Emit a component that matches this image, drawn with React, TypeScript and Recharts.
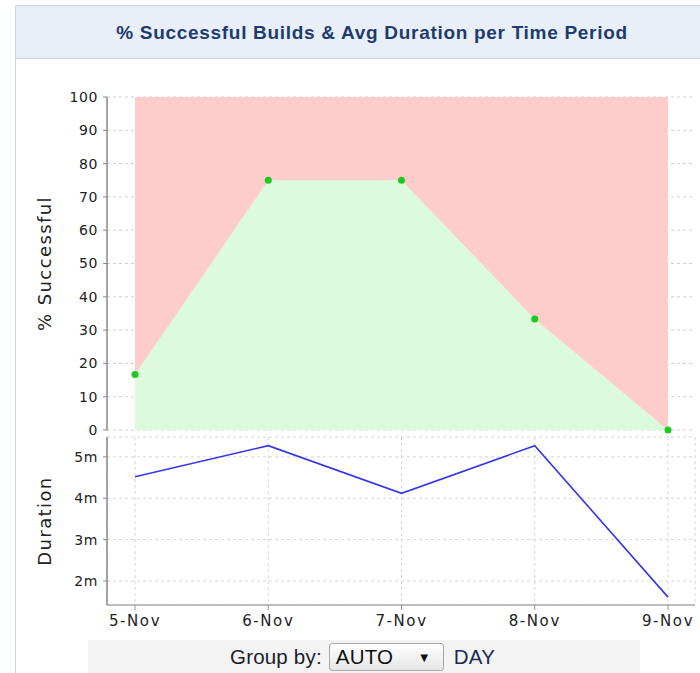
import React from 'react';
import { ComposedChart, Area, Line, XAxis, YAxis, CartesianGrid } from 'recharts';

const dates = ['5-Nov', '6-Nov', '7-Nov', '8-Nov', '9-Nov'];
const successPct = [16.7, 75, 75, 33.3, 0];
const allBuildsPct = [100, 100, 100, 100, 100];
const durationMin = [4.52, 5.27, 4.12, 5.27, 1.61];
const pctTicks = [0, 10, 20, 30, 40, 50, 60, 70, 80, 90, 100];
const durTicks = [2, 3, 4, 5];

const data = dates.map((d, i) => ({
  date: d,
  all: allBuildsPct[i],
  pct: successPct[i],
  dur: durationMin[i],
}));

const tickStyle = { fontFamily: 'DejaVu Sans', fontSize: 14, fill: '#222', letterSpacing: 0.6 };
const xTickStyle = { fontFamily: 'DejaVu Sans', fontSize: 15, fill: '#222', letterSpacing: 1.6 };
const labelStyle = { fontFamily: 'DejaVu Sans', fontSize: 18, fill: '#222', letterSpacing: 1.4, textAnchor: 'middle' as const };
const PAD = { left: 28, right: 27 };

export default function App() {
  return (
    <div style={{ position: 'absolute', left: 0, top: 0, width: 700, height: 673, overflow: 'hidden', background: '#fff' }}>
      <div style={{ position: 'absolute', left: 15, top: 5, width: 720, height: 700, borderLeft: '1px solid #c6d6ea', borderTop: '1px solid #c6d6ea', boxSizing: 'border-box' }} />
      <div style={{ position: 'absolute', left: 16, top: 6, width: 720, height: 53, background: '#e9eff7', borderBottom: '1px solid #c6d6ea', boxSizing: 'border-box' }} />
      <div style={{ position: 'absolute', left: 16, top: 6, width: 712, height: 53, display: 'flex', alignItems: 'center', justifyContent: 'center', fontFamily: 'Liberation Sans, Arial, sans-serif', fontWeight: 'bold', fontSize: 19, letterSpacing: 0.7, color: '#1d3b6e' }}>
        % Successful Builds &amp; Avg Duration per Time Period
      </div>

      <div style={{ position: 'absolute', left: 0, top: 0 }}>
        <ComposedChart width={700} height={440} data={data} margin={{ top: 97, right: 5, bottom: 10, left: 0 }}>
          <CartesianGrid vertical={false} stroke="#cfcfcf" strokeDasharray="3 3" />
          <XAxis dataKey="date" scale="point" padding={PAD} tick={false} tickLine={false} height={0} axisLine={{ stroke: '#999' }} />
          <XAxis xAxisId="top" orientation="top" dataKey="date" scale="point" padding={PAD} tick={false} tickLine={false} height={0} axisLine={{ stroke: '#bbb' }} />
          <YAxis
            domain={[0, 100]}
            ticks={pctTicks}
            interval={0}
            width={107}
            tickSize={4}
            tickMargin={5}
            tick={tickStyle}
            axisLine={{ stroke: '#888', strokeWidth: 1.5 }}
            tickLine={{ stroke: '#888' }}
            label={{ value: '% Successful', angle: -90, position: 'insideLeft', offset: 45, style: labelStyle }}
          />
          <YAxis yAxisId="right" orientation="right" domain={[0, 100]} width={0} tick={false} tickLine={false} axisLine={{ stroke: '#ccc' }} />
          <Area type="linear" dataKey="all" fill="#ffcccc" fillOpacity={1} stroke="none" isAnimationActive={false} dot={false} activeDot={false} />
          <Area type="linear" dataKey="pct" fill="#dcfadc" fillOpacity={1} stroke="none" isAnimationActive={false} dot={{ r: 3.5, fill: '#1ec81e', stroke: 'none' }} activeDot={false} />
        </ComposedChart>
      </div>

      <div style={{ position: 'absolute', left: 0, top: 430 }}>
        <ComposedChart width={700} height={215} data={data} margin={{ top: 7, right: 5, bottom: 5, left: 0 }}>
          <CartesianGrid stroke="#d6d6d6" strokeDasharray="3 3" />
          <XAxis
            dataKey="date"
            scale="point"
            padding={PAD}
            height={35}
            interval={0}
            tickSize={5}
            tickMargin={5}
            tick={xTickStyle}
            axisLine={{ stroke: '#aaa', strokeWidth: 1.5 }}
            tickLine={{ stroke: '#999' }}
          />
          <XAxis xAxisId="top" orientation="top" dataKey="date" scale="point" padding={PAD} tick={false} tickLine={false} height={0} axisLine={{ stroke: '#aaa' }} />
          <YAxis
            domain={[1.42, 5.48]}
            ticks={durTicks}
            interval={0}
            width={107}
            tickSize={4}
            tickMargin={5}
            tick={tickStyle}
            tickFormatter={(v: number) => `${v}m`}
            axisLine={{ stroke: '#888', strokeWidth: 1.5 }}
            tickLine={{ stroke: '#888' }}
            label={{ value: 'Duration', angle: -90, position: 'insideLeft', offset: 45, style: labelStyle }}
          />
          <YAxis yAxisId="right" orientation="right" domain={[0, 1]} width={0} tick={false} tickLine={false} axisLine={{ stroke: '#bbb' }} />
          <Line type="linear" dataKey="dur" stroke="#3535e8" strokeWidth={1.6} dot={false} activeDot={false} isAnimationActive={false} />
        </ComposedChart>
      </div>

      <div style={{ position: 'absolute', left: 88, top: 640, width: 552, height: 40, background: '#f3f3f3' }} />
      <div style={{ position: 'absolute', left: 230, top: 643, height: 28, display: 'flex', alignItems: 'center', fontFamily: 'Liberation Sans, Arial, sans-serif', fontSize: 20.5, letterSpacing: 0.2, color: '#1c1c2c' }}>
        <span>Group by:</span>
        <div style={{ marginLeft: 7, width: 115, height: 28, boxSizing: 'border-box', border: '1px solid #a8a8a8', borderRadius: 3, background: 'linear-gradient(#ffffff, #e6e6e6)', display: 'flex', alignItems: 'center', justifyContent: 'space-between', padding: '0 12px 0 6px', color: '#111' }}>
          <span>AUTO</span>
          <span style={{ fontSize: 13 }}>▼</span>
        </div>
        <span style={{ marginLeft: 10, color: '#1a2a55' }}>DAY</span>
      </div>
    </div>
  );
}
